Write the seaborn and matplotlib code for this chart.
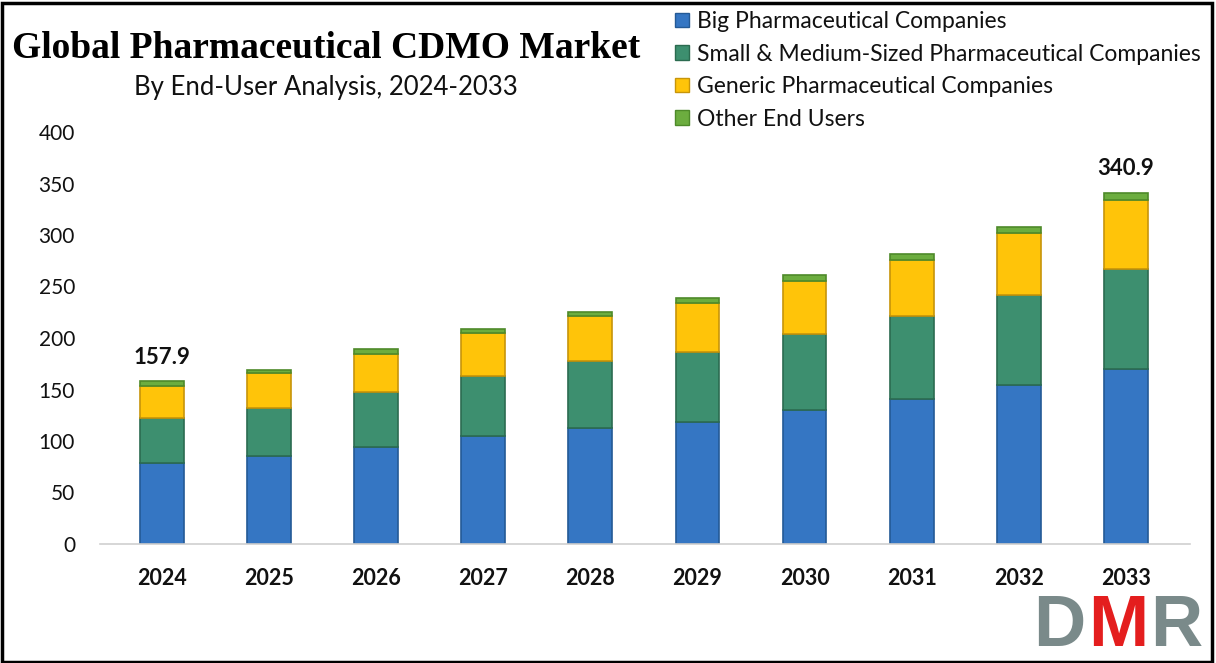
import matplotlib
matplotlib.use("Agg")
import matplotlib.pyplot as plt
import seaborn as sns
import numpy as np
import pandas as pd
from matplotlib.patches import Rectangle

years = ["2024", "2025", "2026", "2027", "2028", "2029", "2030", "2031", "2032", "2033"]
big = [78.5, 85.0, 94.5, 105.0, 113.0, 118.7, 130.0, 141.0, 154.4, 170.0]
small = [43.5, 46.9, 53.4, 58.5, 64.7, 68.0, 73.9, 80.4, 87.3, 97.0]
generic = [31.5, 34.0, 36.6, 41.1, 43.7, 47.0, 51.8, 54.3, 59.9, 66.5]
other = [4.4, 3.0, 4.5, 3.9, 4.2, 4.8, 5.3, 5.9, 6.4, 7.4]
series_names = ["Big Pharmaceutical Companies",
                "Small & Medium-Sized Pharmaceutical Companies",
                "Generic Pharmaceutical Companies",
                "Other End Users"]
labels_shown = {"2024": "157.9", "2033": "340.9"}

colors = ["#3576C3", "#3D8F6F", "#FFC409", "#6CAD3F"]
edges = ["#245A96", "#2B6B50", "#C7950A", "#4E8A2A"]

sns.set_theme(style="white")
plt.rcParams['font.family'] = ['Lato', 'DejaVu Sans']

fig = plt.figure(figsize=(12.16, 6.63), dpi=100)
W, H = 1216, 663
ax = fig.add_axes([100 / W, 1 - 544 / H, (1190 - 100) / W, (544 - 132) / H])

df = pd.DataFrame({"year": years, "big": big, "small": small,
                   "generic": generic, "other": other})
bottom = np.zeros(len(years))
handles = []
for col, name, c, ec in zip(["big", "small", "generic", "other"], series_names, colors, edges):
    sns.barplot(data=df, x="year", y=col, bottom=bottom, color=c, width=0.41,
                edgecolor=ec, linewidth=1.2, ax=ax, saturation=1)
    handles.append(Rectangle((0, 0), 1, 1, facecolor=c, edgecolor=ec, linewidth=1))
    bottom = bottom + df[col].values

totals = bottom
for i, y in enumerate(years):
    if y in labels_shown:
        ax.text(i, totals[i] + 13, labels_shown[y], ha="center", va="bottom",
                fontsize=16, fontweight="bold", color="#111111")

ax.set_ylim(0, 400)
ax.set_xlim(-0.58, 9.6)
ax.set_yticks(range(0, 401, 50))
ax.set_xlabel("")
ax.set_ylabel("")
for s in ["top", "right", "left"]:
    ax.spines[s].set_visible(False)
ax.spines["bottom"].set_color("#D0D0D0")
ax.spines["bottom"].set_linewidth(1.2)
ax.tick_params(axis="y", labelsize=15, colors="#111111", length=0, pad=18)
ax.tick_params(axis="x", labelsize=15.5, colors="#111111", length=0, pad=17)
for t in ax.get_xticklabels():
    t.set_fontweight("bold")

# titles
fig.text(326 / W, 1 - 48 / H, "Global Pharmaceutical CDMO Market", ha="center", va="center",
         fontsize=27, fontweight="bold", family=["Liberation Serif", "DejaVu Serif"], color="#000000")
fig.text(326 / W, 1 - 88 / H, "By End-User Analysis, 2024-2033", ha="center", va="center",
         fontsize=18.5, color="#111111")

# legend
leg = fig.legend(handles, series_names, loc="upper left", bbox_to_anchor=(666 / W, 1 - 2 / H),
                 frameon=False, fontsize=16.5, handlelength=0.6, handleheight=0.6,
                 handletextpad=0.35, labelspacing=0.5, borderaxespad=0)
for t in leg.get_texts():
    t.set_color("#111111")

# logo
logo_font = ["Liberation Sans", "DejaVu Sans"]
fig.text(1033 / W, 1 - 661 / H, "D", fontsize=52, fontweight="bold", color="#7A8A8A",
         ha="left", va="bottom", family=logo_font)
fig.text(1088 / W, 1 - 661 / H, "M", fontsize=52, fontweight="bold", color="#E41E1E",
         ha="left", va="bottom", family=logo_font)
fig.text(1150 / W, 1 - 661 / H, "R", fontsize=52, fontweight="bold", color="#7A8A8A",
         ha="left", va="bottom", family=logo_font)

# border
fig.patches.append(Rectangle((1.5 / W, 1.5 / H), 1 - 6 / W, 1 - 4 / H, transform=fig.transFigure,
                             fill=False, edgecolor="black", linewidth=2.5))

fig.savefig("out.png", dpi=100)
